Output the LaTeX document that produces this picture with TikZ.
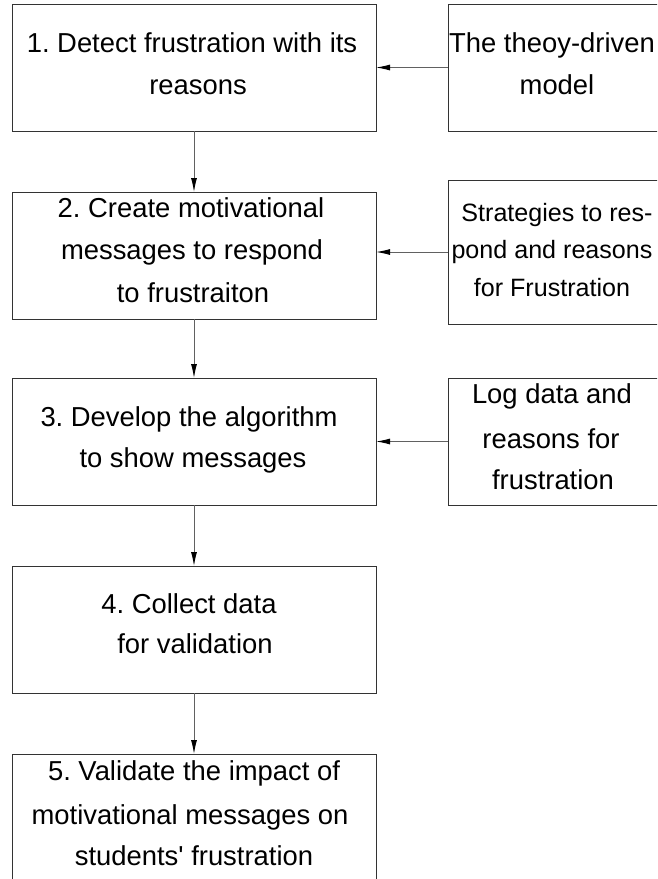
\documentclass[tikz,border=0pt]{standalone}
\usepackage{fontspec}
\setmainfont{Liberation Sans}
\usetikzlibrary{arrows.meta}
\frenchspacing

\tikzset{
  stepbox/.style={draw=black!80, line width=1pt, inner sep=0pt, outer sep=0pt},
  mainbox/.style={stepbox, minimum width=364pt, minimum height=127pt},
  txt/.style={inner sep=0pt, anchor=base, text=black, font=\fontsize{27.4}{42}\selectfont},
  smalltxt/.style={txt, font=\fontsize{25.1}{38}\selectfont},
  flow/.style={draw=black!62, line width=1pt, -{Latex[length=14pt,width=6pt,black]}},
}

\begin{document}
\begin{tikzpicture}[x=1pt, y=-1pt]
\useasboundingbox (0,0) rectangle (657,879);
\clip (0,0) rectangle (657,879);

% main process boxes
\node[mainbox] (b1) at (194,67.5) {};
\node[mainbox] (b2) at (194,255.5) {};
\node[mainbox] (b3) at (194,441.5) {};
\node[mainbox] (b4) at (194,629.5) {};
\node[mainbox, minimum height=140pt] (b5) at (194,824) {};

% input boxes on the right (they run past the right border)
\node[stepbox, minimum width=211pt, minimum height=127pt] (ra) at (553.5,67.5) {};
\node[stepbox, minimum width=211pt, minimum height=144pt] (rb) at (553.5,252) {};
\node[stepbox, minimum width=211pt, minimum height=127pt] (rc) at (553.5,441.5) {};

% texts of the main boxes
\node[txt] (t1a) at (192,52) {1. Detect frustration with its};
\node[txt] (t1b) at (198,94) {reasons};

\node[txt] (t2a) at (191,217) {2. Create motivational};
\node[txt] (t2b) at (192,259) {messages to respond};
\node[txt] (t2c) at (193,302) {to frustraiton};

\node[txt] (t3a) at (189,426) {3. Develop the algorithm};
\node[txt] (t3b) at (193,467) {to show messages};

\node[txt] (t4a) at (189,613) {4. Collect data};
\node[txt] (t4b) at (195,653) {for validation};

\node[txt] (t5a) at (194,780) {5. Validate the impact of};
\node[txt] (t5b) at (190,824) {motivational messages on};
\node[txt] (t5c) at (194,865) {students\textquotesingle{} frustration};

% texts of the input boxes
\node[txt] (tAa) at (552,52) {The theoy-driven};
\node[txt] (tAb) at (557,94) {model};

\node[smalltxt] (tBa) at (557,221) {Strategies to res-};
\node[smalltxt] (tBb) at (552,258) {pond and reasons};
\node[smalltxt] (tBc) at (552,296) {for Frustration};

\node[txt] (tCa) at (552,403) {Log data and};
\node[txt] (tCb) at (551,448) {reasons for};
\node[txt] (tCc) at (553,489) {frustration};

% vertical flow
\draw[flow] (b1.south) -- (b2.north);
\draw[flow] (b2.south) -- (b3.north);
\draw[flow] (b3.south) -- (b4.north);
\draw[flow] (b4.south) -- (b5.north);

% inputs feeding the steps
\draw[flow] (ra.west) -- (ra.west -| b1.east);
\draw[flow] (rb.west) -- (rb.west -| b2.east);
\draw[flow] (rc.west) -- (rc.west -| b3.east);
\end{tikzpicture}
\end{document}
